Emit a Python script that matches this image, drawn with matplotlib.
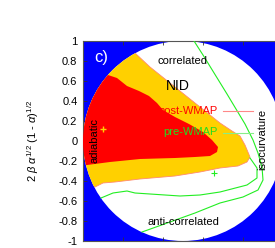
import matplotlib
matplotlib.use("Agg")
import matplotlib.pyplot as plt
from matplotlib.patches import Ellipse, Polygon
import numpy as np

plt.rcParams['font.family'] = ['Liberation Sans', 'DejaVu Sans']
plt.rcParams['mathtext.fontset'] = 'custom'
plt.rcParams['mathtext.rm'] = 'Liberation Sans'
plt.rcParams['mathtext.it'] = 'Liberation Sans:italic'

# post-WMAP 95% region (yellow) boundary: alpha, y
yellow_a = [-0.1, 0.26, 0.335, 0.435, 0.535, 0.61, 0.685, 0.745, 0.785, 0.81, 0.835,
            0.82, 0.775, 0.685, 0.585, 0.46, 0.285, 0.16, 0.10, 0.06, -0.1]
yellow_y = [0.88, 0.88, 0.74, 0.58, 0.42, 0.30, 0.18, 0.10, 0.05, -0.04, -0.16,
            -0.21, -0.25, -0.27, -0.31, -0.35, -0.38, -0.41, -0.42, -0.46, -0.46]

# post-WMAP 68% region (red) boundary
red_a = [-0.1, 0.125, 0.17, 0.22, 0.28, 0.33, 0.37, 0.40, 0.46, 0.53, 0.60,
         0.645, 0.675, 0.67, 0.635, 0.56, 0.46, 0.285, 0.135, 0.02, -0.1]
red_y = [0.66, 0.66, 0.63, 0.55, 0.50, 0.45, 0.38, 0.31, 0.24, 0.17, 0.09,
         0.01, -0.06, -0.11, -0.15, -0.16, -0.17, -0.18, -0.21, -0.24, -0.24]

# pre-WMAP contours (green)
pre_outer_a = [0.555, 0.60, 0.72, 0.81, 0.85, 0.875, 0.895, 0.90, 0.875, 0.80,
               0.685, 0.56, 0.435, 0.295]
pre_outer_y = [1.00, 0.86, 0.47, 0.17, 0.01, -0.12, -0.26, -0.39, -0.49, -0.56,
               -0.62, -0.72, -0.81, -0.91]
pre_inner_a = [0.09, 0.15, 0.22, 0.26, 0.485, 0.585, 0.685, 0.82, 0.87, 0.87, 0.835]
pre_inner_y = [-0.57, -0.52, -0.50, -0.52, -0.55, -0.54, -0.51, -0.44, -0.37, -0.27, -0.17]

post_best = (0.10, 0.12)
pre_best = (0.655, -0.32)

yticks = [1, 0.8, 0.6, 0.4, 0.2, 0, -0.2, -0.4, -0.6, -0.8, -1]
ytick_labels = ['1', '0.8', '0.6', '0.4', '0.2', '0', '-0.2', '-0.4', '-0.6', '-0.8', '-1']
xticks = [0.2, 0.4, 0.6, 0.8]

fig = plt.figure(figsize=(2.75, 2.48), dpi=100)
ax = fig.add_axes([83/275, 7/248, 200/275, 200/248])
ax.set_xlim(0, 1)
ax.set_ylim(-1, 1)
ax.set_facecolor('#0000FF')

disc = Ellipse((0.5, 0), 1, 2, facecolor='white', edgecolor='none', zorder=1)
ax.add_patch(disc)

yel = Polygon(np.column_stack([yellow_a, yellow_y]), closed=True,
              facecolor='#FFD000', edgecolor='#FF8A70', lw=0.6, zorder=2)
ax.add_patch(yel)
yel.set_clip_path(disc)
red = Polygon(np.column_stack([red_a, red_y]), closed=True,
              facecolor='#FF0000', edgecolor='none', zorder=3)
ax.add_patch(red)
red.set_clip_path(disc)

green = '#22EE22'
ax.plot(pre_outer_a, pre_outer_y, color=green, lw=0.8, zorder=4)
ax.plot(pre_inner_a, pre_inner_y, color=green, lw=0.8, zorder=4)
ax.plot([post_best[0]], [post_best[1]], marker='+', color='#FFD000', ms=5, mew=1, zorder=5)
ax.plot([pre_best[0]], [pre_best[1]], marker='+', color=green, ms=4, mew=0.8, zorder=5)

# legend-like lines
ax.plot([0.70, 0.85], [0.30, 0.30], color='#FF8888', lw=0.8, zorder=4)
ax.plot([0.70, 0.85], [0.08, 0.08], color='#88EE88', lw=0.8, zorder=4)

fs = 8
ax.text(0.09, 0.84, 'c)', color='white', fontsize=12, ha='center', va='center', zorder=6)
ax.text(0.50, 0.80, 'correlated', fontsize=fs, ha='center', va='center', zorder=6)
ax.text(0.475, 0.55, 'NID', fontsize=10, ha='center', va='center', zorder=6)
ax.text(0.525, 0.30, 'post-WMAP', color='#FF0000', fontsize=fs, ha='center', va='center', zorder=6)
ax.text(0.535, 0.09, 'pre-WMAP', color='#22DD22', fontsize=fs, ha='center', va='center', zorder=6)
ax.text(0.055, 0.005, 'adiabatic', fontsize=fs, rotation=90, ha='center', va='center', zorder=6)
ax.text(0.895, 0.02, 'isocurvature', fontsize=fs, rotation=90, ha='center', va='center', zorder=6)
ax.text(0.50, -0.81, 'anti-correlated', fontsize=fs, ha='center', va='center', zorder=6)

ax.set_yticks(yticks)
ax.set_yticklabels(ytick_labels, fontsize=fs)
ax.set_xticks(xticks)
ax.set_xticklabels([])
ax.tick_params(direction='in', length=3, width=0.6, top=True, right=True, color='#333333', pad=4)
for s in ax.spines.values():
    s.set_color('#555555')
    s.set_linewidth(0.8)

ax.set_ylabel(r'2 $\beta$ $\alpha^{1/2}$ (1 - $\alpha$)$^{1/2}$', fontsize=fs)
ax.yaxis.set_label_coords(-0.21, 0.5)

fig.savefig('out.png', dpi=100)
